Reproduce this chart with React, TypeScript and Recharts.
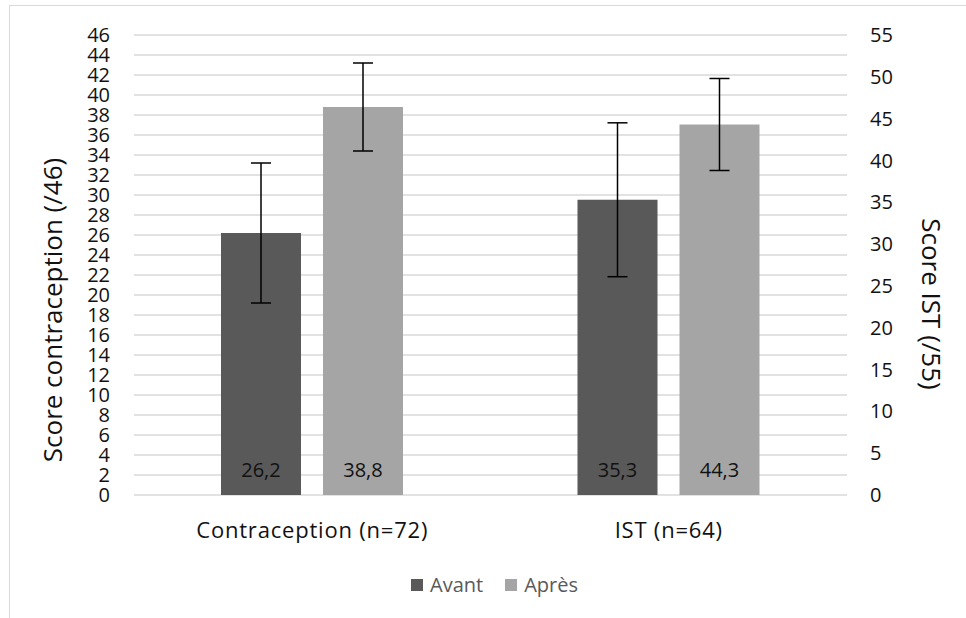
import React from "react";
import { BarChart, Bar, XAxis, YAxis, CartesianGrid, ErrorBar, LabelList } from "recharts";

const categories = ["Contraception (n=72)", "IST (n=64)"];
const seriesNames = ["Avant", "Après"];
const seriesColors = ["#595959", "#a5a5a5"];

// first group is read on the left axis (/46), second on the right axis (/55)
const avantScores = [26.2, 35.3];
const apresScores = [38.8, 44.3];
const avantErrors = [7.0, 9.2];
const apresErrors = [4.4, 5.5];

const leftTicks = [0, 2, 4, 6, 8, 10, 12, 14, 16, 18, 20, 22, 24, 26, 28, 30, 32, 34, 36, 38, 40, 42, 44, 46];
const rightTicks = [0, 5, 10, 15, 20, 25, 30, 35, 40, 45, 50, 55];

const W = 966;
const H = 618;
const TEXT = "#111";
const GRID = "#d9d9d9";

const data = categories.map((cat, i) => {
  const side = i === 0 ? "L" : "R";
  return {
    cat,
    ["avant" + side]: avantScores[i],
    ["apres" + side]: apresScores[i],
    ["avant" + side + "Err"]: avantErrors[i],
    ["apres" + side + "Err"]: apresErrors[i],
  };
});

const fmtComma = (v: any) => (v == null ? "" : String(v).replace(".", ","));

function leftTitle(props: any) {
  const vb = props.viewBox;
  const x = vb.x + 52;
  const y = vb.y + vb.height / 2 + 45;
  return (
    <text x={x} y={y} textAnchor="middle" dominantBaseline="central" fontSize={26} fill={TEXT}
      transform={`rotate(-90 ${x} ${y})`}>
      Score contraception (/46)
    </text>
  );
}

function rightTitle(props: any) {
  const vb = props.viewBox;
  const x = vb.x + 85;
  const y = vb.y + vb.height / 2 + 39;
  return (
    <text x={x} y={y} textAnchor="middle" dominantBaseline="central" fontSize={26} fill={TEXT}
      transform={`rotate(90 ${x} ${y})`}>
      Score IST (/55)
    </text>
  );
}

function renderBars(side: "L" | "R") {
  const xId = side === "L" ? "a" : "b";
  const yId = side === "L" ? "left" : "right";
  return ["avant", "apres"].map((k, i) => (
    <Bar
      key={k + side}
      xAxisId={xId}
      yAxisId={yId}
      dataKey={k + side}
      name={seriesNames[i]}
      fill={seriesColors[i]}
      barSize={80}
      isAnimationActive={false}
    >
      <ErrorBar dataKey={k + side + "Err"} width={10} stroke="#000" strokeWidth={1.5} direction="y" />
      <LabelList dataKey={k + side} position="insideBottom" offset={18} formatter={fmtComma} fill={TEXT} fontSize={20} />
    </Bar>
  ));
}

export default function App() {
  return (
    <div
      style={{
        position: "fixed",
        left: 0,
        top: 0,
        width: W,
        height: H,
        overflow: "hidden",
        background: "#fff",
        fontFamily: "'Open Sans', sans-serif",
      }}
    >
      {/* light frame around the chart area */}
      <div
        style={{
          position: "absolute",
          left: 9,
          top: 5,
          width: 1000,
          height: 700,
          border: `1.5px solid ${GRID}`,
        }}
      />
      <BarChart width={W} height={H} data={data} barGap={22} margin={{ top: 35, right: 0, bottom: 63, left: 0 }}>
        <CartesianGrid xAxisId="a" yAxisId="left" vertical={false} stroke={GRID} strokeWidth={1.5} />
        <XAxis
          xAxisId="a"
          dataKey="cat"
          height={60}
          axisLine={false}
          tickLine={false}
          tickSize={0}
          tickMargin={27}
          tick={{ fill: TEXT, fontSize: 22, letterSpacing: 0.8 }}
        />
        <XAxis xAxisId="b" dataKey="cat" hide />
        <YAxis
          yAxisId="left"
          orientation="left"
          width={134}
          domain={[0, 46]}
          ticks={leftTicks}
          interval={0}
          axisLine={false}
          tickLine={false}
          tickSize={0}
          tickMargin={24}
          tick={{ fill: TEXT, fontSize: 20 }}
          label={leftTitle}
        />
        <YAxis
          yAxisId="right"
          orientation="right"
          width={119}
          domain={[0, 55]}
          ticks={rightTicks}
          interval={0}
          axisLine={false}
          tickLine={false}
          tickSize={0}
          tickMargin={23}
          tick={{ fill: TEXT, fontSize: 20, textAnchor: "start" }}
          label={rightTitle}
        />
        {renderBars("L")}
        {renderBars("R")}
      </BarChart>
      <div
        style={{
          position: "absolute",
          left: 411,
          top: 573,
          display: "flex",
          fontSize: 20,
          lineHeight: "24px",
          color: "#595959",
        }}
      >
        {seriesNames.map((n, i) => (
          <span key={n} style={{ display: "flex", alignItems: "center", marginRight: 22 }}>
            <span style={{ width: 12, height: 12, background: seriesColors[i], marginRight: 7 }} />
            {n}
          </span>
        ))}
      </div>
    </div>
  );
}
